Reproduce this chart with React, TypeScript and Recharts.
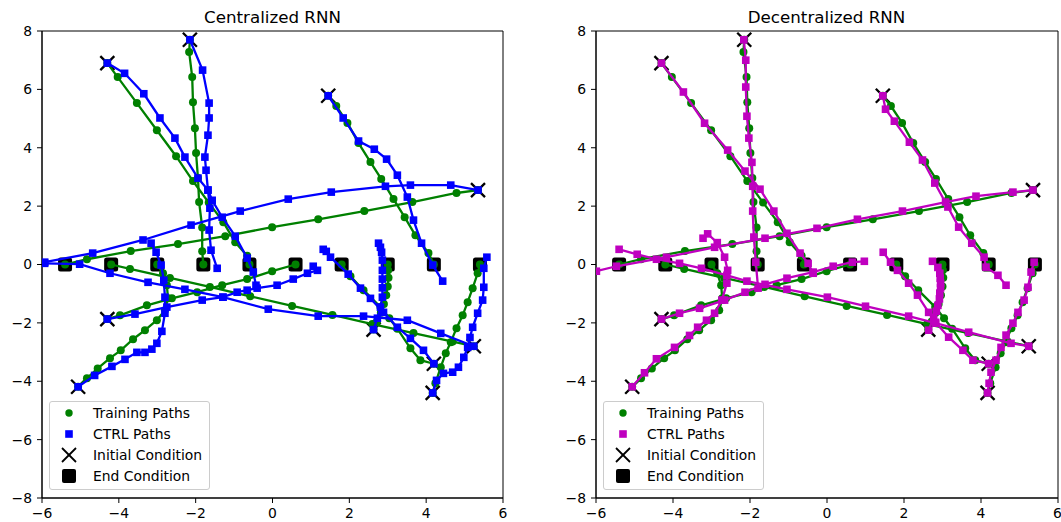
import React from "react";
import { ScatterChart, Scatter, XAxis, YAxis, ReferenceArea, Legend } from "recharts";

type Pt = [number, number];

// initial and end conditions of the ten agents
const startX = [-4.3, -2.15, 1.45, 5.35, -4.3, -5.06, 5.24, 2.63, 4.17, 4.2];
const startY = [6.9, 7.7, 5.78, 2.55, -1.87, -4.19, -2.8, -2.23, -4.4, -3.4];
const endX = [-5.4, -4.2, -3.0, -1.8, -0.6, 0.6, 1.8, 3.0, 4.2, 5.4];
const endY = [0, 0, 0, 0, 0, 0, 0, 0, 0, 0];

// training paths (same in both panels)
const train1: Pt[] = [[-4.3, 6.9], [-4.03, 6.42], [-3.53, 5.53], [-3.01, 4.6], [-2.51, 3.71], [-2.07, 2.86], [-1.66, 2.12], [-1.28, 1.45], [-0.97, 0.76], [-0.66, 0.3], [-0.6, 0]];
const train2: Pt[] = [[-2.15, 7.7], [-2.17, 7.28], [-2.09, 6.42], [-2.07, 5.56], [-2.02, 4.67], [-1.99, 3.82], [-1.94, 2.96], [-1.91, 2.14], [-1.83, 1.27], [-1.83, 0.45], [-1.8, 0]];
const train3: Pt[] = [[1.45, 5.78], [1.66, 5.43], [1.95, 4.85], [2.24, 4.16], [2.55, 3.51], [2.83, 2.93], [3.15, 2.24], [3.44, 1.62], [3.72, 1.0], [4.06, 0.39], [4.2, 0]];
const train4: Pt[] = [[5.35, 2.55], [4.79, 2.45], [3.64, 2.14], [2.39, 1.83], [1.19, 1.55], [-0.01, 1.28], [-1.23, 0.97], [-2.46, 0.7], [-3.69, 0.46], [-4.83, 0.18], [-5.4, 0]];
const train5: Pt[] = [[-4.3, -1.87], [-3.97, -1.74], [-3.27, -1.4], [-2.62, -1.16], [-1.96, -0.95], [-1.31, -0.71], [-0.66, -0.5], [-0.01, -0.23], [0.6, 0]];
const train6: Pt[] = [[-5.06, -4.19], [-4.83, -3.9], [-4.55, -3.56], [-4.23, -3.21], [-3.95, -2.94], [-3.63, -2.56], [-3.32, -2.25], [-3.01, -1.91], [-2.8, -1.57], [-2.72, -1.16], [-2.75, -0.71], [-2.85, -0.3], [-3.0, 0]];
const train7: Pt[] = [[5.24, -2.8], [4.69, -2.64], [3.67, -2.35], [2.6, -2.04], [1.56, -1.73], [0.51, -1.42], [-0.58, -1.09], [-1.63, -0.77], [-2.67, -0.46], [-3.71, -0.15], [-4.2, 0]];
const train8: Pt[] = [[2.63, -2.23], [2.72, -1.95], [2.82, -1.65], [2.9, -1.35], [2.96, -1.05], [3.0, -0.75], [3.02, -0.45], [3.01, -0.2], [3.0, 0]];
const train9: Pt[] = [[4.17, -4.4], [4.24, -4.07], [4.38, -3.52], [4.51, -3.04], [4.64, -2.66], [4.79, -2.18], [4.95, -1.74], [5.08, -1.29], [5.21, -0.81], [5.34, -0.3], [5.4, 0]];
const train10: Pt[] = [[4.2, -3.4], [3.85, -3.28], [3.59, -2.87], [3.25, -2.2], [3.04, -1.84], [2.81, -1.46], [2.37, -0.88], [2.03, -0.4], [1.8, 0]];

// CTRL paths, centralized RNN
const cen1: Pt[] = [[-4.3, 6.9], [-3.85, 6.55], [-3.35, 5.85], [-2.93, 5.02], [-2.54, 4.33], [-2.28, 3.68], [-1.94, 2.96], [-1.68, 2.55], [-1.57, 2.2], [-1.31, 1.62], [-0.97, 0.97], [-0.66, 0.22], [-0.5, -0.26], [-0.43, -0.71]];
const cen2: Pt[] = [[-2.15, 7.7], [-1.82, 6.66], [-1.65, 5.53], [-1.65, 5.02], [-1.68, 4.43], [-1.76, 3.68], [-1.73, 3.23], [-1.68, 2.55], [-1.63, 1.93], [-1.65, 1.18], [-1.6, 0.49], [-1.44, -0.13]];
const cen3: Pt[] = [[1.45, 5.78], [1.84, 5.02], [2.24, 4.23], [2.65, 3.95], [2.97, 3.61], [3.25, 3.06], [3.51, 2.31], [3.67, 1.52], [3.88, 0.73], [4.17, -0.02], [4.43, -0.57]];
const cen4: Pt[] = [[5.35, 2.55], [4.64, 2.72], [3.59, 2.72], [2.94, 2.68], [1.53, 2.48], [0.41, 2.24], [-0.84, 1.83], [-2.12, 1.35], [-3.37, 0.84], [-4.68, 0.39], [-5.93, 0.08]];
const cen5: Pt[] = [[-4.3, -1.87], [-3.58, -1.7], [-2.75, -1.46], [-1.83, -1.22], [-1.29, -1.12], [-0.92, -0.95], [-0.66, -0.88], [-0.4, -0.81], [0.12, -0.71], [0.54, -0.5], [0.91, -0.3], [1.17, -0.2], [1.06, -0.06]];
const cen6: Pt[] = [[-5.06, -4.19], [-4.63, -3.8], [-4.18, -3.49], [-3.84, -3.25], [-3.53, -3.01], [-3.32, -3.01], [-3.14, -2.9], [-3.01, -2.7], [-2.88, -2.29], [-2.8, -1.67], [-2.8, -1.12], [-2.83, -0.54], [-2.9, -0.02], [-3.03, 0.42], [-3.16, 0.73]];
const cen7: Pt[] = [[5.24, -2.8], [4.38, -2.36], [3.51, -1.91], [2.37, -1.77], [1.19, -1.77], [-0.11, -1.53], [-1.29, -1.12], [-2.28, -0.85], [-3.24, -0.61], [-4.23, -0.3], [-5.02, 0.01], [-5.93, 0.04]];
const cen8: Pt[] = [[2.63, -2.23], [2.73, -1.84], [2.81, -1.46], [2.86, -1.12], [2.86, -0.8], [2.86, -0.5], [2.86, -0.2], [2.86, 0.15], [2.84, 0.42], [2.81, 0.59], [2.76, 0.73]];
const cen9: Pt[] = [[4.17, -4.4], [4.27, -3.97], [4.45, -3.73], [4.69, -3.69], [4.84, -3.52], [4.98, -3.18], [5.08, -2.84], [5.14, -2.5], [5.21, -2.15], [5.34, -1.67], [5.47, -1.22], [5.5, -0.78], [5.5, -0.13], [5.58, 0.25]];
const cen10: Pt[] = [[4.2, -3.4], [3.93, -2.94], [3.59, -2.53], [3.25, -2.15], [2.89, -1.64], [2.55, -1.16], [2.29, -0.81], [1.97, -0.33], [1.51, 0.25], [1.32, 0.52], [1.4, 0.45]];

// CTRL paths, decentralized RNN
const dec1: Pt[] = [[-4.3, 6.9], [-3.73, 5.91], [-3.18, 4.84], [-2.58, 3.92], [-2.13, 3.2], [-1.74, 2.58], [-1.38, 1.83], [-1.04, 1.07], [-0.7, 0.39], [-0.49, 0.04], [-0.36, -0.3]];
const dec2: Pt[] = [[-2.16, 7.7], [-2.11, 7.0], [-2.11, 6.08], [-2.08, 5.08], [-2.03, 4.33], [-1.95, 3.5], [-1.93, 2.68], [-1.93, 1.83], [-1.9, 0.94], [-1.85, 0.08], [-1.79, -0.81]];
const dec3: Pt[] = [[1.45, 5.78], [1.52, 5.32], [1.75, 4.91], [2.14, 4.19], [2.48, 3.58], [2.8, 2.79], [3.14, 1.97], [3.42, 1.28], [3.76, 0.73], [4.08, 0.25], [4.13, -0.09], [4.44, -0.37], [4.65, -0.71]];
const dec4: Pt[] = [[5.35, 2.55], [4.83, 2.48], [3.87, 2.34], [3.08, 2.14], [1.96, 1.83], [0.79, 1.55], [-0.26, 1.24], [-1.61, 0.9], [-2.92, 0.59], [-4.17, 0.25], [-5.47, -0.06], [-5.99, -0.23]];
const dec5: Pt[] = [[-4.3, -1.87], [-3.83, -1.67], [-3.31, -1.5], [-2.66, -1.22], [-2.13, -0.95], [-1.61, -0.68], [-1.04, -0.47], [-0.36, -0.26], [0.16, -0.06], [0.66, 0.08], [0.97, 0.11]];
const dec6: Pt[] = [[-5.06, -4.19], [-4.74, -3.71], [-4.43, -3.23], [-3.96, -2.84], [-3.57, -2.43], [-3.36, -2.15], [-3.13, -1.91], [-2.92, -1.67], [-2.73, -1.22], [-2.6, -0.64], [-2.58, -0.2], [-2.66, 0.25], [-2.85, 0.75], [-3.1, 1.05], [-3.22, 0.9]];
const dec7: Pt[] = [[5.24, -2.8], [4.78, -2.7], [3.68, -2.32], [2.82, -2.01], [2.12, -1.77], [1.0, -1.43], [0.01, -1.12], [-1.04, -0.85], [-2.08, -0.57], [-2.6, -0.37], [-3.26, -0.13], [-3.83, 0.04], [-4.43, 0.18], [-4.93, 0.35], [-5.4, 0.52]];
const dec8: Pt[] = [[2.64, -2.25], [2.77, -1.81], [2.84, -1.6], [2.88, -1.4], [2.92, -1.18], [2.93, -0.98], [2.95, -0.8], [2.95, -0.64], [2.94, -0.47], [2.93, -0.3], [2.88, -0.1], [2.74, 0.11]];
const dec9: Pt[] = [[4.17, -4.4], [4.21, -4.07], [4.26, -3.69], [4.39, -3.28], [4.52, -2.84], [4.65, -2.42], [4.83, -2.01], [4.96, -1.64], [5.12, -1.22], [5.22, -0.78], [5.3, -0.26], [5.38, 0.08]];
const dec10: Pt[] = [[4.2, -3.4], [3.79, -3.28], [3.53, -2.94], [3.16, -2.49], [2.82, -1.98], [2.64, -1.64], [2.35, -1.05], [2.12, -0.64], [1.83, -0.2], [1.65, 0.08], [1.46, 0.42]];

const trainPaths = [train1, train2, train3, train4, train5, train6, train7, train8, train9, train10];
const cenPaths = [cen1, cen2, cen3, cen4, cen5, cen6, cen7, cen8, cen9, cen10];
const decPaths = [dec1, dec2, dec3, dec4, dec5, dec6, dec7, dec8, dec9, dec10];

const xTicks = [-6, -4, -2, 0, 2, 4, 6];
const yTicks = [-8, -6, -4, -2, 0, 2, 4, 6, 8];

const GREEN = "#008000";
const BLUE = "#0000ff";
const MAGENTA = "#bf00bf";
const FONT = "DejaVu Sans, sans-serif";

const toPts = (p: Pt[]) => p.map(([x, y]) => ({ x, y }));
const startPts = startX.map((x, i) => ({ x, y: startY[i] }));
const endPts = endX.map((x, i) => ({ x, y: endY[i] }));
const fmt = (v: number) => (v < 0 ? "\u2212" + Math.abs(v) : String(v));

const GreenDot = (p: any) => <circle cx={p.cx} cy={p.cy} r={4} fill={GREEN} />;
const squareOf = (color: string) => (p: any) => (
  <rect x={p.cx - 3.8} y={p.cy - 3.8} width={7.6} height={7.6} fill={color} />
);
const XMark = (p: any) => (
  <g stroke="#000" strokeWidth={2.3}>
    <line x1={p.cx - 7} y1={p.cy - 7} x2={p.cx + 7} y2={p.cy + 7} />
    <line x1={p.cx - 7} y1={p.cy + 7} x2={p.cx + 7} y2={p.cy - 7} />
  </g>
);
const EndSquare = (p: any) => (
  <rect x={p.cx - 7} y={p.cy - 7} width={14} height={14} rx={2.5} fill="#000" />
);

function LegendBox({ color }: { color: string }) {
  const row = { display: "flex", alignItems: "center", height: 21 } as const;
  const handle = { width: 38, display: "flex", justifyContent: "center" } as const;
  const label = { marginLeft: 5 };
  return (
    <div
      style={{
        boxSizing: "border-box",
        width: 161,
        height: 89,
        border: "1px solid #cccccc",
        borderRadius: 3,
        background: "rgba(255,255,255,0.8)",
        paddingTop: 0,
        fontFamily: FONT,
        fontSize: 13.9,
        color: "#000",
      }}
    >
      <div style={row}>
        <div style={handle}>
          <svg width={10} height={10}><circle cx={5} cy={5} r={3.7} fill={GREEN} /></svg>
        </div>
        <span style={label}>Training Paths</span>
      </div>
      <div style={row}>
        <div style={handle}>
          <svg width={10} height={10}><rect x={1.2} y={1.2} width={7.6} height={7.6} fill={color} /></svg>
        </div>
        <span style={label}>CTRL Paths</span>
      </div>
      <div style={row}>
        <div style={handle}>
          <svg width={16} height={16} stroke="#000" strokeWidth={1.8}>
            <line x1={1} y1={1} x2={15} y2={15} />
            <line x1={1} y1={15} x2={15} y2={1} />
          </svg>
        </div>
        <span style={label}>Initial Condition</span>
      </div>
      <div style={row}>
        <div style={handle}>
          <svg width={16} height={16}><rect x={1} y={1} width={14} height={14} rx={2} fill="#000" /></svg>
        </div>
        <span style={label}>End Condition</span>
      </div>
    </div>
  );
}

function Panel(props: { left: number; width: number; right: number; title: string; ctrl: Pt[][]; color: string }) {
  const { left, width, right, title, ctrl, color } = props;
  const Sq = squareOf(color);
  const tickStyle = { fill: "#000", fontSize: 13.9, fontFamily: FONT };
  return (
    <div style={{ position: "absolute", left, top: 0, width, height: 522 }}>
      <div
        style={{
          position: "absolute",
          left: 42,
          top: 9,
          width: 461,
          textAlign: "center",
          fontFamily: FONT,
          fontSize: 16.7,
          lineHeight: "16.7px",
          color: "#000",
        }}
      >
        {title}
      </div>
      <ScatterChart width={width} height={522} margin={{ top: 31, right, bottom: 0, left: 6 }}>
        <XAxis
          type="number"
          dataKey="x"
          domain={[-6, 6]}
          ticks={xTicks}
          tickFormatter={fmt}
          height={24}
          tickSize={5}
          tickMargin={5}
          tick={tickStyle}
          axisLine={{ stroke: "#000" }}
          tickLine={{ stroke: "#000" }}
          allowDataOverflow
        />
        <YAxis
          type="number"
          dataKey="y"
          domain={[-8, 8]}
          ticks={yTicks}
          tickFormatter={fmt}
          width={36}
          tickSize={5}
          tickMargin={5}
          tick={tickStyle}
          axisLine={{ stroke: "#000" }}
          tickLine={{ stroke: "#000" }}
          allowDataOverflow
        />
        <ReferenceArea x1={-6} x2={6} y1={-8} y2={8} fill="none" stroke="#000" strokeWidth={1} ifOverflow="visible" />
        <Scatter data={endPts} shape={EndSquare} isAnimationActive={false} legendType="none" />
        <Scatter data={startPts} shape={XMark} isAnimationActive={false} legendType="none" />
        {trainPaths.map((p, i) => (
          <Scatter
            key={"t" + i}
            data={toPts(p)}
            shape={GreenDot}
            line={{ stroke: GREEN, strokeWidth: 2.3 }}
            lineJointType="linear"
            isAnimationActive={false}
            legendType="none"
          />
        ))}
        {ctrl.map((p, i) => (
          <Scatter
            key={"c" + i}
            data={toPts(p)}
            shape={Sq}
            line={{ stroke: color, strokeWidth: 2.3 }}
            lineJointType="linear"
            isAnimationActive={false}
            legendType="none"
          />
        ))}
        <Legend
          layout="vertical"
          align="center"
          verticalAlign="middle"
          wrapperStyle={{ left: 49, top: 401, width: 161, height: 89 }}
          content={() => <LegendBox color={color} />}
        />
      </ScatterChart>
    </div>
  );
}

export default function App() {
  return (
    <div style={{ position: "absolute", left: 0, top: 0, width: 1061, height: 522, overflow: "hidden", background: "#fff" }}>
      <Panel left={0} width={530} right={27} title="Centralized RNN" ctrl={cenPaths} color={BLUE} />
      <Panel left={554} width={507} right={3} title="Decentralized RNN" ctrl={decPaths} color={MAGENTA} />
    </div>
  );
}
